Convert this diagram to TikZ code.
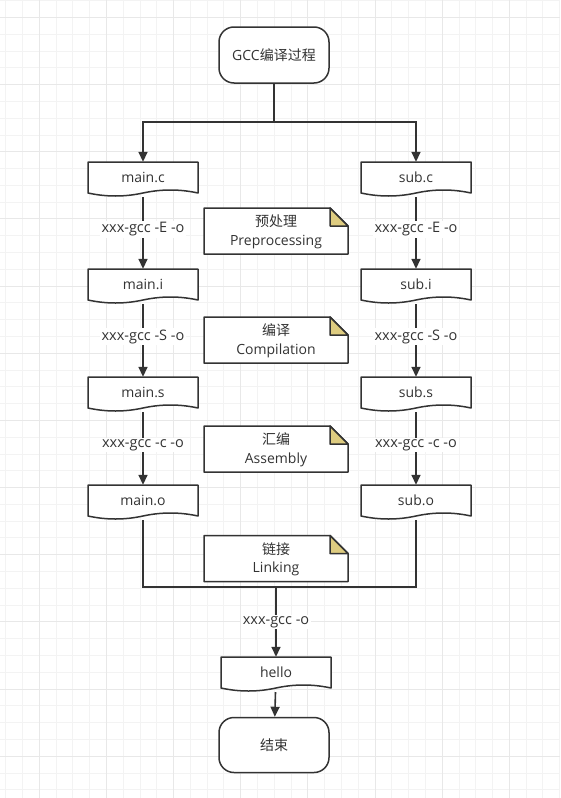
\documentclass[tikz,border=0pt]{standalone}
\usepackage{fontspec}
\setmainfont{Open Sans}
\newfontfamily\cjk{Noto Sans CJK SC}
\usetikzlibrary{arrows.meta}

\definecolor{ln}{HTML}{333333}
\definecolor{txt}{HTML}{333333}
\definecolor{fold}{RGB}{222,204,128}
\definecolor{gridminor}{RGB}{243,243,243}
\definecolor{gridmajor}{RGB}{232,232,232}

\newcommand{\docnode}[4]{%
  \begin{scope}[shift={(#2,#3)}]
    \filldraw[shapeline, fill=white] (-55,-17.5) -- (55,-17.5) -- (55,13.5)
      .. controls (36.67,9.5) and (18.33,9.5) .. (0,13.5)
      .. controls (-18.33,17.5) and (-36.67,17.5) .. (-55,13.5) -- cycle;
    \node[doctext] (#1) at (0,0) {#4};
  \end{scope}}

\newcommand{\notenode}[4]{%
  \begin{scope}[shift={(#2,#3)}]
    \filldraw[shapeline, fill=white] (-72,-23) -- (54,-23) -- (72,-5) -- (72,23) -- (-72,23) -- cycle;
    \filldraw[shapeline, fill=fold] (54,-23) -- (54,-5) -- (72,-5) -- cycle;
    \node[notetext] (#1) at (0,1) {#4};
  \end{scope}}

\begin{document}
\begin{tikzpicture}[x=1pt, y=-1pt,
  shapeline/.style={draw=ln, line width=1.5pt, line join=round},
  doctext/.style={minimum width=110pt, minimum height=35pt, inner sep=0pt, text height=8pt, text depth=3pt, text=txt, font=\fontsize{14}{18}\selectfont},
  notetext/.style={align=center, inner sep=0pt, text=txt, font=\fontsize{14}{18.5}\selectfont},
  terminal/.style={shapeline, fill=white, rounded corners=15pt, minimum width=110pt, minimum height=56pt, inner sep=0pt, text=txt, font=\fontsize{14}{18}\selectfont},
  conn/.style={draw=ln, line width=1.6pt},
  flow/.style={conn, -{Triangle[length=10pt,width=9pt]}},
  lbl/.style={fill=white, inner sep=1.5pt, text=txt, font=\fontsize{14.5}{18}\selectfont}]

\useasboundingbox (0,0) rectangle (560,798);
\fill[white] (0,0) rectangle (560,798);

\foreach \i [evaluate=\i as \gx using 5.7+16.79*\i] in {0,...,33}
  \draw[gridminor, line width=1pt] (\gx,0) -- (\gx,798);
\foreach \j [evaluate=\j as \gy using 0.71+16.79*\j] in {0,...,47}
  \draw[gridminor, line width=1pt] (0,\gy) -- (560,\gy);
\foreach \i [evaluate=\i as \gx using 5.7+16.79*\i] in {2,6,...,30}
  \draw[gridmajor, line width=1pt] (\gx,0) -- (\gx,798);
\foreach \j [evaluate=\j as \gy using 0.71+16.79*\j] in {1,5,...,45}
  \draw[gridmajor, line width=1pt] (0,\gy) -- (560,\gy);

\node[terminal] (start) at (274,55) {GCC{\cjk 编译过程}};

\docnode{mainc}{143}{179.5}{main.c}
\docnode{maini}{143}{286.5}{main.i}
\docnode{mains}{143}{394.5}{main.s}
\docnode{maino}{143}{502.5}{main.o}

\docnode{subc}{416}{179.5}{sub.c}
\docnode{subi}{416}{286.5}{sub.i}
\docnode{subs}{416}{394.5}{sub.s}
\docnode{subo}{416}{502.5}{sub.o}

\notenode{prep}{276}{231}{{\cjk 预处理}\\Preprocessing}
\notenode{comp}{276}{340}{{\cjk 编译}\\Compilation}
\notenode{asm}{276}{449}{{\cjk 汇编}\\Assembly}
\notenode{link}{276}{558.5}{{\cjk 链接}\\Linking}

\docnode{hello}{276}{674.5}{hello}
\node[terminal, minimum height=55pt] (finish) at (274,745) {\cjk 结束};

\coordinate (split) at (274,122);
\coordinate (merge) at (276,587);

\draw[conn] (start) -- (split);
\draw[flow] (split) -| (mainc);
\draw[flow] (split) -| (subc);

\draw[flow] (mainc) -- node[lbl, pos=0.45] {xxx-gcc -E -o} (maini);
\draw[flow] (maini) -- node[lbl, pos=0.45] {xxx-gcc -S -o} (mains);
\draw[flow] (mains) -- node[lbl, pos=0.45] {xxx-gcc -c -o} (maino);

\draw[flow] (subc) -- node[lbl, pos=0.45] {xxx-gcc -E -o} (subi);
\draw[flow] (subi) -- node[lbl, pos=0.45] {xxx-gcc -S -o} (subs);
\draw[flow] (subs) -- node[lbl, pos=0.45] {xxx-gcc -c -o} (subo);

\draw[conn] (maino) |- (merge) -| (subo);
\draw[flow] (merge) -- node[lbl] {xxx-gcc -o} (hello);
\draw[flow] (hello) -- (finish);

\end{tikzpicture}
\end{document}
